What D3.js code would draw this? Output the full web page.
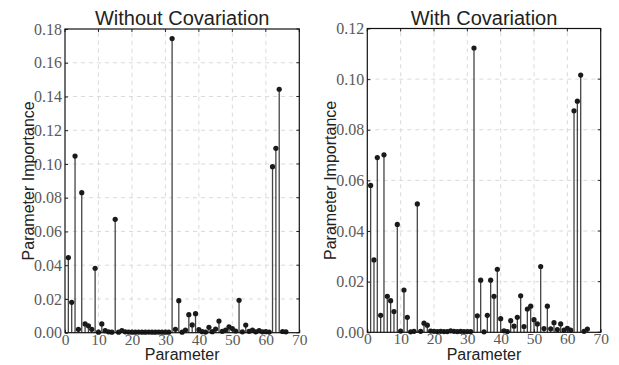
<!DOCTYPE html>
<html><head><meta charset="utf-8">
<script src="https://cdn.jsdelivr.net/npm/d3@7"></script>
<style>body{margin:0;background:#fff}</style>
</head><body>
<svg id="c" width="619" height="365"></svg>
<script>
const params = d3.range(1, 67);
const withoutCov = [0.0445,0.018,0.1047,0.002,0.083,0.0052,0.0041,0.002,0.0382,0.0003,
0.0052,0.0012,0.0005,0.0003,0.0672,0.0003,0.0013,0.0005,0.0004,0.0003,
0.0003,0.0004,0.0003,0.0003,0.0004,0.0003,0.0003,0.0004,0.0003,0.0003,
0.0003,0.1743,0.002,0.019,0.0003,0.0016,0.0107,0.0046,0.0113,0.0018,
0.0006,0.0004,0.0032,0.0006,0.0022,0.0069,0.0008,0.0016,0.0035,0.0025,
0.001,0.0192,0.0005,0.0045,0.0008,0.0016,0.0005,0.0012,0.0005,0.0006,
0.0004,0.0984,0.1093,0.1443,0.0007,0.0005];
const withCov = [0.058,0.0286,0.069,0.0067,0.0701,0.0142,0.0125,0.0082,0.0426,0.0005,
0.0167,0.0059,0.0002,0.0004,0.0507,0.0004,0.0036,0.0028,0.0005,0.0004,
0.0003,0.0004,0.0003,0.0003,0.0006,0.0004,0.0003,0.0004,0.0003,0.0003,
0.0003,0.1123,0.0065,0.0206,0.0002,0.0067,0.0206,0.0142,0.0249,0.0054,
0.0006,0.0003,0.0046,0.0024,0.0059,0.0144,0.0023,0.0092,0.0103,0.005,
0.0033,0.026,0.0015,0.0103,0.0014,0.0038,0.0011,0.0033,0.0009,0.0016,
0.0009,0.0875,0.0913,0.1016,0.0004,0.0013];
const xTicks = [0,10,20,30,40,50,60,70];
const yTicksLeft = [0,0.02,0.04,0.06,0.08,0.10,0.12,0.14,0.16,0.18];
const yTicksRight = [0,0.02,0.04,0.06,0.08,0.10,0.12];
const titles = ["Without Covariation","With Covariation"];

const svg = d3.select("#c");
const SANS = "'Liberation Sans', Arial, sans-serif";
const SERIF = "'Liberation Serif', 'Times New Roman', serif";
const panels = [
  {x0:65, x1:299.3, y0:332.7, y1:29, ymax:0.18, yt:yTicksLeft, data:withoutCov, title:titles[0]},
  {x0:367.3, x1:600.7, y0:332.3, y1:28.5, ymax:0.12, yt:yTicksRight, data:withCov, title:titles[1]}
];
panels.forEach(p => {
  const x = d3.scaleLinear().domain([0,70]).range([p.x0,p.x1]);
  const y = d3.scaleLinear().domain([0,p.ymax]).range([p.y0,p.y1]);
  const g = svg.append("g");
  // grid
  g.selectAll(".gx").data(xTicks.slice(1,-1)).enter().append("line")
    .attr("x1",d=>x(d)).attr("x2",d=>x(d)).attr("y1",p.y0).attr("y2",p.y1)
    .attr("stroke","#d0d0d0").attr("stroke-dasharray","4,4").attr("stroke-width",0.8);
  g.selectAll(".gy").data(p.yt.slice(1,-1)).enter().append("line")
    .attr("y1",d=>y(d)).attr("y2",d=>y(d)).attr("x1",p.x0).attr("x2",p.x1)
    .attr("stroke","#d0d0d0").attr("stroke-dasharray","4,4").attr("stroke-width",0.8);
  // stems
  g.selectAll(".st").data(p.data).enter().append("line")
    .attr("x1",(d,i)=>x(params[i])).attr("x2",(d,i)=>x(params[i]))
    .attr("y1",p.y0).attr("y2",d=>y(d))
    .attr("stroke","#444").attr("stroke-width",1.3);
  g.selectAll(".mk").data(p.data).enter().append("circle")
    .attr("cx",(d,i)=>x(params[i])).attr("cy",d=>y(d)).attr("r",2.6).attr("fill","#1a1a1a");
  // axes
  const ax = d3.axisBottom(x).tickValues(xTicks).tickSize(-3).tickPadding(1).tickFormat(d3.format("d"));
  const ay = d3.axisLeft(y).tickValues(p.yt).tickSize(-3).tickPadding(3).tickFormat(d3.format(".2f"));
  const gx = g.append("g").attr("transform",`translate(0,${p.y0})`).call(ax);
  const gy = g.append("g").attr("transform",`translate(${p.x0},0)`).call(ay);
  [[gx,15.5],[gy,16]].forEach(([a,fs])=>{
    a.attr("font-family",SERIF).attr("font-size",fs);
    a.select(".domain").remove();
    a.selectAll("line").attr("stroke","#222");
    a.selectAll("text").style("font-family",SERIF).style("font-size",fs+"px").attr("fill","#5a5a5a");
  });
  // right / top ticks
  g.selectAll(".rt").data(p.yt).enter().append("line")
    .attr("x1",p.x1).attr("x2",p.x1-3).attr("y1",d=>y(d)).attr("y2",d=>y(d)).attr("stroke","#222");
  g.selectAll(".tt").data(xTicks).enter().append("line")
    .attr("x1",d=>x(d)).attr("x2",d=>x(d)).attr("y1",p.y1).attr("y2",p.y1+3).attr("stroke","#222");
  g.append("rect").attr("x",p.x0).attr("y",p.y1).attr("width",p.x1-p.x0).attr("height",p.y0-p.y1)
    .attr("fill","none").attr("stroke","#111").attr("stroke-width",1.2);
  g.append("text").attr("x",(p.x0+p.x1)/2).attr("y",25).attr("text-anchor","middle")
    .style("font-family",SANS).style("font-size","20px").attr("fill","#222").text(p.title);
  g.append("text").attr("x",(p.x0+p.x1)/2).attr("y",360).attr("text-anchor","middle")
    .style("font-family",SANS).style("font-size","16px").attr("fill","#222").text("Parameter");
  g.append("text").attr("transform",`translate(${p.x0-31},${(p.y0+p.y1)/2}) rotate(-90)`).attr("text-anchor","middle")
    .style("font-family",SANS).style("font-size","16px").attr("fill","#222").text("Parameter Importance");
});
</script>
</body></html>
